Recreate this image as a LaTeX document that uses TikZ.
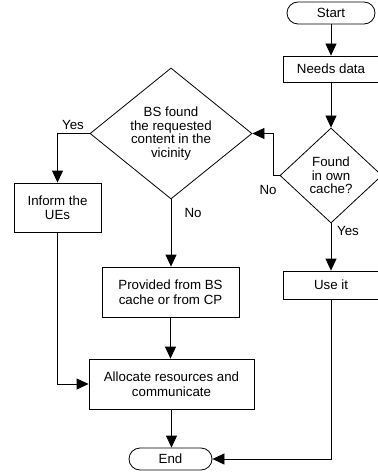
\documentclass[tikz,border=0pt]{standalone}
\usepackage{fontspec}
\setmainfont{Liberation Sans}
\usetikzlibrary{shapes.geometric,arrows.meta}
\begin{document}
\begin{tikzpicture}[x=1pt,y=-1pt,
  every node/.style={font=\fontsize{13.3}{14.5}\selectfont},
  box/.style={draw,line width=0.8pt,inner sep=0pt,align=center},
  term/.style={draw,line width=0.8pt,inner sep=0pt,rounded corners=11pt,minimum height=22pt},
  dia/.style={draw,line width=0.8pt,diamond,inner sep=0pt,shape aspect=1},
  lbl/.style={inner sep=0pt},
  flow/.style={line width=0.8pt,-{Triangle[length=12pt,width=11pt]}}
]
\useasboundingbox (0,0) rectangle (377,473);
\node[term,minimum width=88pt] (start) at (331,13) {Start};
\node[box,minimum width=96pt,minimum height=26pt] (needs) at (331,69) {Needs data};
\node[dia,minimum width=102pt,minimum height=95pt,
  label={[align=center,font=\fontsize{13.3}{13.5}\selectfont]center:Found\\in own\\cache?}] (found) at (331,175.5) {};
\node[dia,minimum width=162pt,minimum height=131pt,
  label={[align=center,font=\fontsize{13.3}{13.5}\selectfont]center:BS found\\the requested\\content in the\\vicinity}] (bs) at (171,133.5) {};
\node[box,minimum width=87pt,minimum height=49pt] (inform) at (57.5,207.5) {Inform the\\UEs};
\node[box,minimum width=137pt,minimum height=50pt] (prov) at (170.5,292) {Provided from BS\\cache or from CP};
\node[box,minimum width=96pt,minimum height=28pt] (use) at (331,285) {Use it};
\node[box,minimum width=165pt,minimum height=50pt] (alloc) at (171.5,384) {Allocate resources and\\communicate};
\node[term,minimum width=83pt] (end) at (170.5,459) {End};
\node[lbl] (yes1) at (73,125) {Yes};
\node[lbl] (no1) at (193,213) {No};
\node[lbl] (no2) at (268,190) {No};
\node[lbl] (yes2) at (348,231) {Yes};
\draw[flow] (start) -- (needs);
\draw[flow] (needs) -- (found);
\draw[flow] (found.west) -- ++(-6,0) |- (bs.east);
\draw[flow] (found.south) -- (use.north);
\draw[flow] (bs.west) -| (inform.north);
\draw[flow] (bs.south) -- (bs.south |- prov.north);
\draw[flow] (inform.south) |- (alloc.west);
\draw[flow] (prov.south) -- (prov.south |- alloc.north);
\draw[flow] (alloc.south) -- (alloc.south |- end.north);
\draw[flow] (use.south) |- (end.east);
\end{tikzpicture}
\end{document}
